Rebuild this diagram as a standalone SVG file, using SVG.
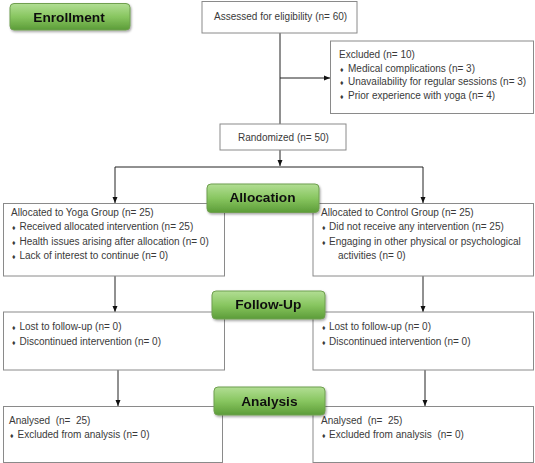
<svg xmlns="http://www.w3.org/2000/svg" width="535" height="463" viewBox="0 0 535 463">
<style>
.box{fill:#fff;stroke:#8a8a8a;stroke-width:1}
.t{font-family:"Liberation Sans",Arial,sans-serif;font-size:10px;fill:#3a3a3a}
.b{font-size:7px}
.btn{fill:url(#g);stroke:#6f9f50;stroke-width:1}
.bt{font-family:"Liberation Sans",Arial,sans-serif;font-size:13.7px;font-weight:bold;fill:#111;text-anchor:middle}
.ln{stroke:#222;stroke-width:1;fill:none}
</style>
<defs>
<linearGradient id="g" x1="0" y1="0" x2="0" y2="1">
<stop offset="0" stop-color="#b2de94"/>
<stop offset="0.5" stop-color="#88c660"/>
<stop offset="1" stop-color="#5c9c38"/>
</linearGradient>
<filter id="sh" x="-10%" y="-20%" width="130%" height="160%">
<feDropShadow dx="1" dy="1.5" stdDeviation="1" flood-color="#000" flood-opacity="0.35"/>
</filter>
<marker id="ah" markerWidth="6" markerHeight="6" refX="6" refY="3" orient="auto" markerUnits="userSpaceOnUse">
<path d="M0,0.5 L6,3 L0,5.5 Z" fill="#111"/>
</marker>
</defs>
<g id="connectors">
<line class="ln" x1="280" y1="33" x2="280" y2="124"/>
<line class="ln" x1="280" y1="78" x2="330" y2="78" marker-end="url(#ah)"/>
<line class="ln" x1="280" y1="150" x2="280" y2="166" marker-end="url(#ah)"/>
<line class="ln" x1="115" y1="167" x2="423" y2="167"/>
<line class="ln" x1="115" y1="167" x2="115" y2="203" marker-end="url(#ah)"/>
<line class="ln" x1="423" y1="167" x2="423" y2="203" marker-end="url(#ah)"/>
<line class="ln" x1="115" y1="276" x2="115" y2="312" marker-end="url(#ah)"/>
<line class="ln" x1="423" y1="276" x2="423" y2="312" marker-end="url(#ah)"/>
<line class="ln" x1="118" y1="370" x2="118" y2="406" marker-end="url(#ah)"/>
<line class="ln" x1="425" y1="370" x2="425" y2="406" marker-end="url(#ah)"/>
</g>
<g id="assessed">
<rect class="box" x="202" y="1.5" width="155" height="31.5"/>
<text class="t" x="214" y="20">Assessed for eligibility (n= 60)</text>
</g>
<g id="excluded">
<rect class="box" x="330.5" y="41" width="203" height="72.5"/>
<text class="t" x="339" y="58">Excluded (n= 10)</text>
<text class="t" x="340" y="71.5"><tspan class="b">♦</tspan><tspan x="348">Medical complications (n= 3)</tspan></text>
<text class="t" x="340" y="85"><tspan class="b">♦</tspan><tspan x="348">Unavailability for regular sessions (n= 3)</tspan></text>
<text class="t" x="340" y="98.5"><tspan class="b">♦</tspan><tspan x="348">Prior experience with yoga (n= 4)</tspan></text>
</g>
<g id="randomized">
<rect class="box" x="220" y="124" width="126" height="26"/>
<text class="t" x="238" y="141">Randomized (n= 50)</text>
</g>
<g id="alloc-yoga">
<rect class="box" x="3.5" y="203.5" width="221" height="72.5"/>
<text class="t" x="11" y="215.5">Allocated to Yoga Group (n= 25)</text>
<text class="t" x="12" y="230"><tspan class="b">♦</tspan><tspan x="19.5">Received allocated intervention (n= 25)</tspan></text>
<text class="t" x="12" y="244.5"><tspan class="b">♦</tspan><tspan x="19.5">Health issues arising after allocation (n= 0)</tspan></text>
<text class="t" x="12" y="259"><tspan class="b">♦</tspan><tspan x="19.5">Lack of interest to continue (n= 0)</tspan></text>
</g>
<g id="alloc-control">
<rect class="box" x="313" y="203.5" width="220.5" height="72.5"/>
<text class="t" x="321" y="215.5">Allocated to Control Group (n= 25)</text>
<text class="t" x="322" y="230"><tspan class="b">♦</tspan><tspan x="329">Did not receive any intervention (n= 25)</tspan></text>
<text class="t" x="322" y="244.5"><tspan class="b">♦</tspan><tspan x="329">Engaging in other physical or psychological</tspan></text>
<text class="t" x="338" y="259">activities (n= 0)</text>
</g>
<g id="follow-yoga">
<rect class="box" x="3.5" y="312" width="221" height="58"/>
<text class="t" x="12" y="329.5"><tspan class="b">♦</tspan><tspan x="19.5">Lost to follow-up (n= 0)</tspan></text>
<text class="t" x="12" y="344.5"><tspan class="b">♦</tspan><tspan x="19.5">Discontinued intervention (n= 0)</tspan></text>
</g>
<g id="follow-control">
<rect class="box" x="313" y="312" width="220.5" height="58"/>
<text class="t" x="322" y="329.5"><tspan class="b">♦</tspan><tspan x="329">Lost to follow-up (n= 0)</tspan></text>
<text class="t" x="322" y="344.5"><tspan class="b">♦</tspan><tspan x="329">Discontinued intervention (n= 0)</tspan></text>
</g>
<g id="analysis-yoga">
<rect class="box" x="3.5" y="406.5" width="219" height="56"/>
<text class="t" x="9" y="423.5" xml:space="preserve">Analysed  (n=  25)</text>
<text class="t" x="10" y="438"><tspan class="b">♦</tspan><tspan x="17.5">Excluded from analysis (n= 0)</tspan></text>
</g>
<g id="analysis-control">
<rect class="box" x="313" y="406.5" width="220.5" height="56"/>
<text class="t" x="321" y="423.5" xml:space="preserve">Analysed  (n=  25)</text>
<text class="t" x="322" y="438" xml:space="preserve"><tspan class="b">♦</tspan><tspan x="329">Excluded from analysis  (n= 0)</tspan></text>
</g>
<g id="enrollment" filter="url(#sh)">
<rect class="btn" x="10" y="3.5" width="120" height="26.5" rx="4"/>
<text class="bt" x="69" y="21.8">Enrollment</text>
</g>
<g id="allocation" filter="url(#sh)">
<rect class="btn" x="207" y="184" width="112" height="28.5" rx="4"/>
<text class="bt" x="262.5" y="201.5">Allocation</text>
</g>
<g id="followup" filter="url(#sh)">
<rect class="btn" x="212" y="291" width="113" height="28" rx="4"/>
<text class="bt" x="268.3" y="309">Follow-Up</text>
</g>
<g id="analysis" filter="url(#sh)">
<rect class="btn" x="214" y="387" width="111" height="28" rx="4"/>
<text class="bt" x="269.4" y="405.5">Analysis</text>
</g>
</svg>
